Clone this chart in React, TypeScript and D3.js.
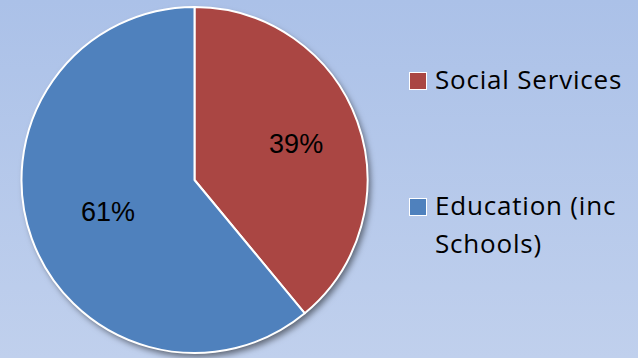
import React from "react";
import * as d3 from "d3";

const categories = ["Social Services", "Education (inc Schools)"];
const values = [39, 61];
const colors = ["#AA4643", "#4F81BD"];
const legendLines = [["Social Services"], ["Education (inc", "Schools)"]];

export default function App() {
  const W = 638, H = 358;
  const cx = 194.5, cy = 180, r = 173;
  const pie = d3.pie<number>().sort(null).value((d) => d)(values);
  const arc = d3.arc<d3.PieArcDatum<number>>().innerRadius(0).outerRadius(r);
  const labelR = [108, 92];
  const legendY = [72, 198];
  return (
    <svg width={W} height={H} style={{ position: "fixed", left: 0, top: 0 }}>
      <defs>
        <linearGradient id="bg" x1="0" y1="0" x2="0" y2="1">
          <stop offset="0" stopColor="#abc1e8" />
          <stop offset="1" stopColor="#c0d0ed" />
        </linearGradient>
        <filter id="sh" x="-20%" y="-20%" width="140%" height="140%">
          <feDropShadow dx="3" dy="4" stdDeviation="3" floodColor="#000" floodOpacity="0.5" />
        </filter>
      </defs>
      <rect width={W} height={H} fill="url(#bg)" />
      <g transform={`translate(${cx},${cy})`}>
        <circle r={r} fill="#4F81BD" filter="url(#sh)" />
        {pie.map((p, i) => (
          <path key={i} d={arc(p) || ""} fill={colors[i]} stroke="#fff" strokeWidth={2} strokeLinejoin="round" />
        ))}
        {pie.map((p, i) => {
          const a = (p.startAngle + p.endAngle) / 2;
          const x = Math.sin(a) * labelR[i];
          const y = -Math.cos(a) * labelR[i];
          return (
            <text key={i} x={x} y={y} dy="0.35em" textAnchor="middle" fontFamily="Liberation Sans, Arial, sans-serif" fontSize={27} fill="#000">
              {Math.round((values[i] / d3.sum(values)) * 100)}%
            </text>
          );
        })}
      </g>
      {categories.map((c, i) => (
        <g key={c}>
          <rect x={409.5} y={legendY[i] + 0.5} width={17} height={17} fill={colors[i]} stroke="#fff" strokeWidth={1} />
          {legendLines[i].map((l, j) => (
            <text key={j} x={435} y={legendY[i] + 17 + j * 38} fontFamily="Open Sans, sans-serif" fontSize={26} letterSpacing={0.8} fill="#000">
              {l}
            </text>
          ))}
        </g>
      ))}
    </svg>
  );
}
